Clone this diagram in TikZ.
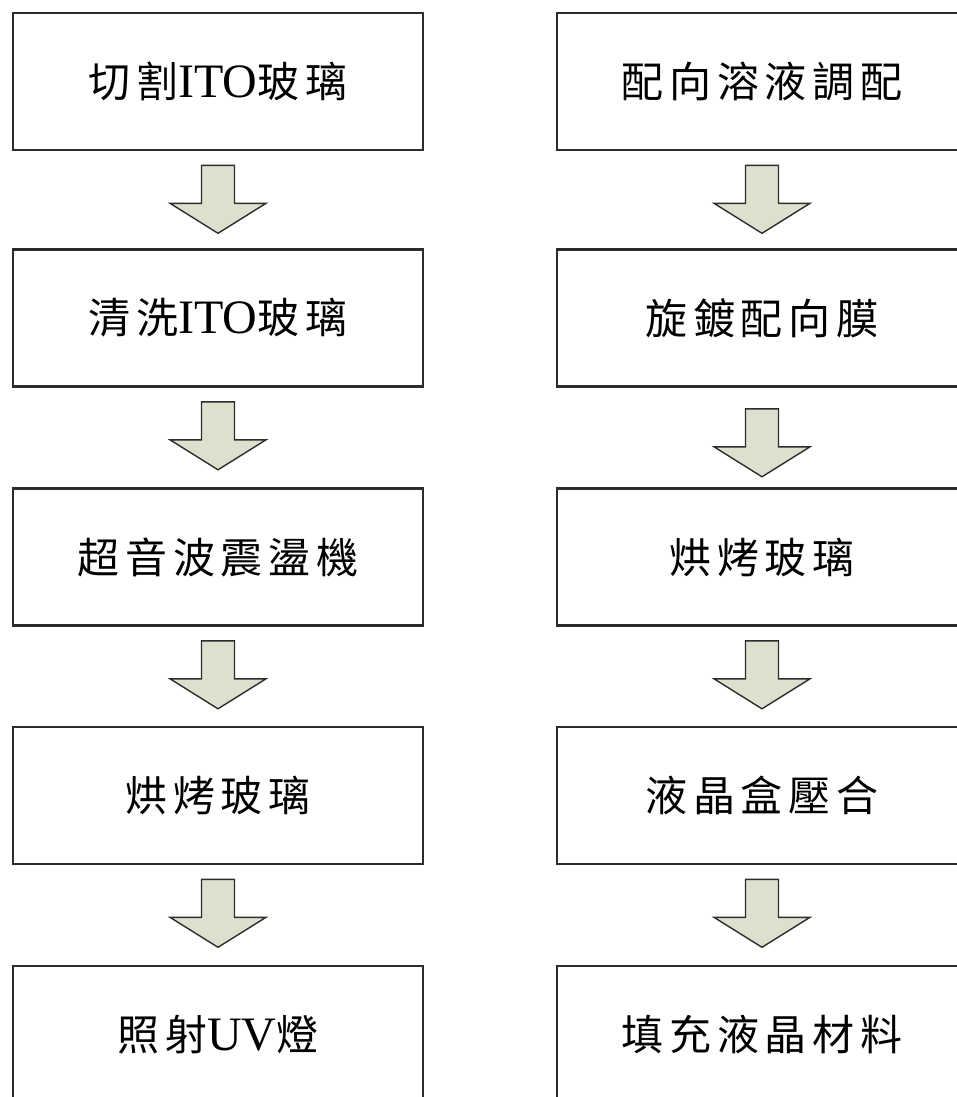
\documentclass[tikz,border=0pt]{standalone}
\usepackage{fontspec}
\setmainfont{Liberation Serif}
\newfontfamily\cjk[Scale=0.875,LetterSpace=14]{Noto Sans CJK TC}
\usetikzlibrary{calc}
\definecolor{boxline}{RGB}{45,45,45}
\definecolor{arrfill}{RGB}{221,224,204}
\newcommand\flowarrow[3][0]{%
  \draw[blockarrow] ($(#2.south)+(-16.5,14+#1)$) -- ++(0,38) -- ++(-31.5,0)
    -- ++(48,30) -- ++(48,-30) -- ++(-31.5,0) -- ++(0,-38) -- cycle;}
\begin{document}
\begin{tikzpicture}[x=1pt,y=-1pt,
  stepbox/.style={draw=boxline,line width=2.6pt,minimum width=410pt,
    minimum height=137pt,inner sep=0pt,font=\fontsize{48}{56}\selectfont},
  blockarrow/.style={draw=boxline,line width=1.4pt,fill=arrfill,line join=miter}]
\useasboundingbox (0,0) rectangle (957,1097);
\clip (0,0) rectangle (957,1097);
\fill[white] (0,0) rectangle (957,1097);
% left column
\node[stepbox] (l1) at (218,81.5) {{\cjk 切割}ITO{\cjk 玻璃}};
\node[stepbox] (l2) at (218,318) {{\cjk 清洗}ITO{\cjk 玻璃}};
\node[stepbox] (l3) at (218,557) {{\cjk 超音波震盪機}};
\node[stepbox] (l4) at (218,795.5) {{\cjk 烘烤玻璃}};
\node[stepbox] (l5) at (218,1034.5) {{\cjk 照射}UV{\cjk 燈}};
% right column
\node[stepbox] (r1) at (762,81.5) {{\cjk 配向溶液調配}};
\node[stepbox] (r2) at (762,318) {{\cjk 旋鍍配向膜}};
\node[stepbox] (r3) at (762,557) {{\cjk 烘烤玻璃}};
\node[stepbox] (r4) at (762,795.5) {{\cjk 液晶盒壓合}};
\node[stepbox] (r5) at (762,1034.5) {{\cjk 填充液晶材料}};
% arrows
\flowarrow{l1}{l2}
\flowarrow{l2}{l3}
\flowarrow{l3}{l4}
\flowarrow{l4}{l5}
\flowarrow{r1}{r2}
\flowarrow[7]{r2}{r3}
\flowarrow{r3}{r4}
\flowarrow{r4}{r5}
\end{tikzpicture}
\end{document}
